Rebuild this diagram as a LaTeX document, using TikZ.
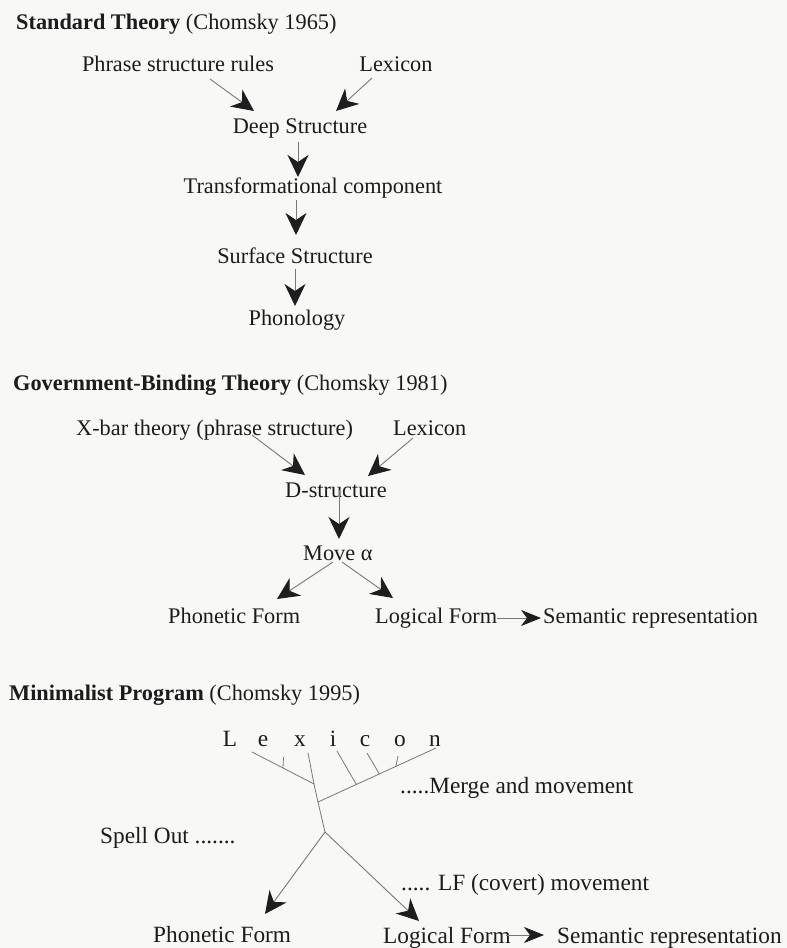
\documentclass[tikz,border=0pt]{standalone}
\usepackage{fontspec}
\setmainfont{Liberation Serif}
\usetikzlibrary{arrows.meta,calc}
\definecolor{inkc}{RGB}{28,28,28}
\definecolor{linec}{RGB}{120,120,120}
\definecolor{headc}{RGB}{30,30,30}
\definecolor{paperc}{RGB}{248,248,247}
\tikzset{
  lbl/.style={anchor=base west, inner sep=0pt, text=inkc, font=\fontsize{22.3}{26}\selectfont},
  clbl/.style={anchor=base, inner sep=0pt, text=inkc, font=\fontsize{22.3}{26}\selectfont},
  lblb/.style={lbl, font=\fontsize{23.3}{27}\selectfont},
  clblb/.style={clbl, font=\fontsize{23.3}{27}\selectfont},
  conn/.style={draw=linec, line width=0.9pt, -{Stealth[length=22pt,width=21pt,inset=7pt,color=headc]}},
  sideconn/.style={draw=linec, line width=0.9pt, -{Stealth[length=20pt,width=16pt,inset=6pt,color=headc]}},
  twig/.style={draw=linec, line width=0.8pt},
}
\begin{document}
\begin{tikzpicture}[x=1pt,y=-1pt]
\useasboundingbox[fill=paperc] (0,0) rectangle (787,948);

% ---------------- Standard Theory ----------------
\node[lbl] (st) at (16,29) {\textbf{Standard Theory} (Chomsky 1965)};
\node[clbl] (psr) at (178,71) {Phrase structure rules};
\node[clbl] (lexa) at (396,71) {Lexicon};
\node[clbl] (ds) at (300,133) {Deep Structure};
\node[clbl] (tc) at (313,193) {Transformational component};
\node[clbl] (ss) at (295,263) {Surface Structure};
\node[clbl] (ph) at (297,325) {Phonology};

\coordinate (a1s) at (210,79);  \coordinate (a1e) at (254,111);
\coordinate (a2s) at (372,78);  \coordinate (a2e) at (336,111);
\coordinate (a3s) at (298,142); \coordinate (a3e) at (298,177);
\coordinate (a4s) at (296,200); \coordinate (a4e) at (296,235);
\coordinate (a5s) at (295,269); \coordinate (a5e) at (295,306);
\draw[conn] (a1s) -- (a1e);
\draw[conn] (a2s) -- (a2e);
\draw[conn] (a3s) -- (a3e);
\draw[conn] (a4s) -- (a4e);
\draw[conn] (a5s) -- (a5e);

% ---------------- Government-Binding Theory ----------------
\node[lbl] (gb) at (13,390) {\textbf{Government-Binding Theory} (Chomsky 1981)};
\node[lbl] (xbar) at (76,435) {X-bar theory (phrase structure)};
\node[lbl] (lexb) at (393,435) {Lexicon};
\node[clbl] (dstr) at (336,497) {D-structure};
\node[lbl] (mova) at (303,560) {Move α};
\node[lbl] (pfb) at (168,623) {Phonetic Form};
\node[lbl] (lfb) at (375,623) {Logical Form};
\node[lbl] (semb) at (543,623) {Semantic representation};

\coordinate (b1s) at (252,435); \coordinate (b1e) at (305,475);
\coordinate (b2s) at (413,438); \coordinate (b2e) at (368,476);
\coordinate (b3s) at (339,490); \coordinate (b3e) at (339,539);
\coordinate (b4s) at (333,562); \coordinate (b4e) at (277,599);
\coordinate (b5s) at (342,562); \coordinate (b5e) at (393,598);
\coordinate (b6s) at (497,618); \coordinate (b6e) at (541,618);
\draw[conn] (b1s) -- (b1e);
\draw[conn] (b2s) -- (b2e);
\draw[conn] (b3s) -- (b3e);
\draw[conn] (b4s) -- (b4e);
\draw[conn] (b5s) -- (b5e);
\draw[sideconn] (b6s) -- (b6e);

% ---------------- Minimalist Program ----------------
\node[lbl] (mp) at (9,700) {\textbf{Minimalist Program} (Chomsky 1995)};
\node[clblb] (l1) at (230,746) {L};
\node[clblb] (l2) at (263,746) {e};
\node[clblb] (l3) at (300,746) {x};
\node[clblb] (l4) at (333,746) {i};
\node[clblb] (l5) at (365,746) {c};
\node[clblb] (l6) at (400,746) {o};
\node[clblb] (l7) at (435,746) {n};
\node[lblb] (merge) at (400,793) {.....Merge and movement};
\node[lblb] (spell) at (100,843) {Spell Out .......};
\node[lblb] (covert) at (401,890) {..... LF (covert) movement};
\node[lblb] (pfc) at (153,942) {Phonetic Form};
\node[lblb] (lfc) at (383,943) {Logical Form};
\node[lblb] (semc) at (557,943) {Semantic representation};

% merge tree
\coordinate (tl) at (252,752);
\coordinate (tx) at (308,753);
\coordinate (j1) at (314,784);
\coordinate (j2) at (318,802);
\coordinate (tn) at (436,748);
\coordinate (j3) at (325,832);
\draw[twig] (tl) -- (j1);
\draw[twig] (tx) -- (j1) -- (j2) -- (j3);
\draw[twig] (j2) -- (tn);
\draw[twig] ($(tl)!0.5!(j1)$) -- ++(0.5,-11);
\draw[twig] (337,751) -- ($(j2)!0.325!(tn)$);
\draw[twig] (367,753) -- ($(j2)!0.52!(tn)$);
\draw[twig] (398,756) -- ($(j2)!0.66!(tn)$);

\coordinate (c1e) at (265,914);
\coordinate (c2e) at (419,921);
\coordinate (c3s) at (506,935); \coordinate (c3e) at (544,935);
\draw[conn] (j3) -- (c1e);
\draw[conn] (j3) -- (c2e);
\draw[sideconn] (c3s) -- (c3e);
\end{tikzpicture}
\end{document}
